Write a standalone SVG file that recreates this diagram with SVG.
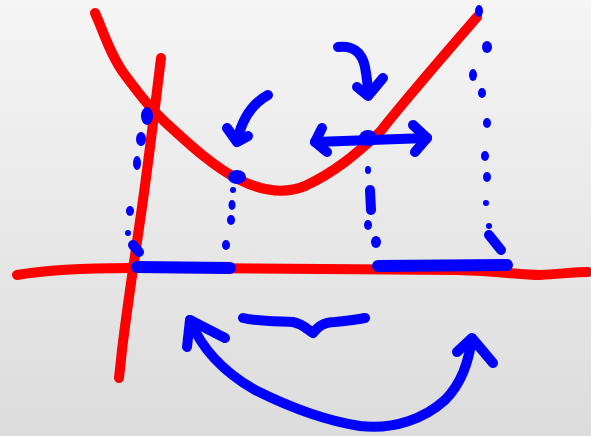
<svg xmlns="http://www.w3.org/2000/svg" width="591" height="436" viewBox="0 0 591 436">
<defs>
<linearGradient id="bg" x1="0" y1="0" x2="0" y2="1">
<stop offset="0" stop-color="#f5f5f5"/>
<stop offset="1" stop-color="#dcdcdc"/>
</linearGradient>
</defs>
<style>
.r{fill:none;stroke:#ff0000;stroke-width:10;stroke-linecap:round;stroke-linejoin:round}
.b{fill:none;stroke:#0000ff;stroke-width:10;stroke-linecap:round;stroke-linejoin:round}
.bt{fill:none;stroke:#0000ff;stroke-width:12;stroke-linecap:round;stroke-linejoin:round}
.d{fill:#0000ff}
</style>
<rect width="591" height="436" fill="url(#bg)"/>
<g id="red-curves">
<path class="r" d="M95,13 C103,30 110,55 125,75 C140,95 150,108 165,122 C190,145 215,168 240,180 C262,191 285,194 305,186 C335,172 355,155 380,132 C405,100 440,60 477,17"/>
<path class="r" d="M161,58 C157,90 150,150 143,200 C136,250 128,300 122,350 L119,378"/>
<path class="r" d="M17,275 C40,271 80,268 130,268 C250,268 400,269 457,270 C500,271 520,275 540,275 C560,274 575,272 588,272"/>
</g>
<g id="projections">
<path class="bt" d="M137,267 L230,268"/>
<path class="bt" d="M378,266 L507,265"/>
<ellipse class="d" cx="147" cy="116" rx="6" ry="9"/>
<ellipse class="d" cx="141" cy="139" rx="5" ry="7"/>
<ellipse class="d" cx="137" cy="163" rx="4" ry="7"/>
<ellipse class="d" cx="130" cy="211" rx="4" ry="5"/>
<circle class="d" cx="128" cy="233" r="3"/>
<path class="b" d="M133,245 L139,252" stroke-width="8"/>
<ellipse class="d" cx="237" cy="177" rx="9" ry="7"/>
<circle class="d" cx="233" cy="190" r="3"/>
<ellipse class="d" cx="232" cy="205" rx="3.5" ry="5"/>
<ellipse class="d" cx="231" cy="220" rx="4" ry="5"/>
<ellipse class="d" cx="226" cy="245" rx="4" ry="5"/>
<ellipse class="d" cx="368" cy="138" rx="9" ry="8"/>
<ellipse class="d" cx="368" cy="170" rx="3" ry="4"/>
<path class="b" d="M370,190 L371,210" stroke-width="8"/>
<ellipse class="d" cx="368" cy="225" rx="4" ry="5"/>
<ellipse class="d" cx="376" cy="242" rx="5" ry="6"/>
<ellipse class="d" cx="479" cy="11" rx="4" ry="6"/>
<ellipse class="d" cx="487" cy="47" rx="5" ry="6"/>
<ellipse class="d" cx="473" cy="75" rx="4" ry="6"/>
<ellipse class="d" cx="482" cy="93" rx="4" ry="5"/>
<ellipse class="d" cx="487" cy="123" rx="4" ry="5"/>
<ellipse class="d" cx="485" cy="156" rx="4" ry="5"/>
<ellipse class="d" cx="487" cy="177" rx="4" ry="5"/>
<circle class="d" cx="486" cy="203" r="3"/>
<circle class="d" cx="489" cy="226" r="3"/>
<path class="b" d="M489,235 L501,250" stroke-width="9"/>
</g>
<g id="arrows">
<path class="b" d="M268,95 C255,102 243,115 237,141"/>
<path class="b" d="M227,128 L237,142 L248,136"/>
<path class="b" d="M338,47 C352,45 362,52 365,67 C367,78 368,88 368,95"/>
<path class="b" d="M357,87 L368,96 L383,78"/>
<path class="b" d="M315,142 L427,138" stroke-width="11"/>
<path class="b" d="M322,128 L315,142 L327,152"/>
<path class="b" d="M413,125 L427,138 L415,152"/>
<path class="b" d="M243,318 C255,321 270,321 293,322 C303,324 308,330 313,333 C318,327 323,322 335,322 C345,321 355,320 365,318"/>
<path class="b" d="M190,320 C200,345 220,370 255,390 C285,405 320,420 360,426 C395,430 425,418 445,400 C462,383 468,362 472,340"/>
<path class="b" d="M187,347 L190,320 L225,338"/>
<path class="b" d="M457,352 L472,338 L493,363"/>
</g>
</svg>
